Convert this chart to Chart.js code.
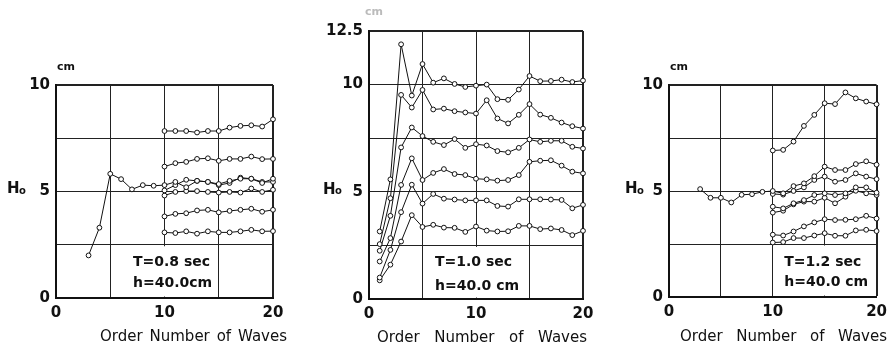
<html>
<head>
<script src="https://cdn.jsdelivr.net/npm/chart.js@4/dist/chart.umd.min.js"></script>
<style>
body { margin:0; background:#fff; width:893px; height:344px; position:relative; overflow:hidden; }
.pane { position:absolute; }
</style>
</head>
<body>
<div class="pane" style="left:0px;top:55px;width:300px;height:289px"><canvas id="c1"></canvas></div>
<div class="pane" style="left:300px;top:0px;width:300px;height:344px"><canvas id="c2"></canvas></div>
<div class="pane" style="left:600px;top:55px;width:293px;height:289px"><canvas id="c3"></canvas></div>
<script>
// wave height Ho (cm) against order number of waves, three wave periods

// T = 0.8 sec : first run from wave 3, the other runs from wave 10
var t08Lead = [2.0, 3.3, 5.83, 5.58, 5.1, 5.3, 5.27, 5.3, 5.45, 5.2, 5.5, 5.45, 5.35, 5.5, 5.6, 5.6, 5.4, 5.6];
var t08Runs = [
  [7.84, 7.84, 7.84, 7.77, 7.84, 7.84, 8.0, 8.08, 8.11, 8.05, 8.39],
  [6.17, 6.33, 6.39, 6.53, 6.56, 6.44, 6.53, 6.53, 6.64, 6.52, 6.53],
  [5.05, 5.3, 5.55, 5.5, 5.45, 5.3, 5.4, 5.65, 5.6, 5.45, 5.45],
  [4.81, 4.98, 5.02, 5.02, 4.98, 4.95, 4.98, 4.95, 5.14, 4.98, 5.08],
  [3.83, 3.95, 3.98, 4.11, 4.14, 4.02, 4.09, 4.14, 4.19, 4.05, 4.14],
  [3.08, 3.05, 3.13, 3.02, 3.13, 3.08, 3.08, 3.13, 3.2, 3.13, 3.14]
];

// T = 1.0 sec : all runs from wave 1
var t10Runs = [
  [3.15, 5.58, 11.88, 9.49, 10.96, 10.09, 10.29, 10.03, 9.89, 9.95, 10.0, 9.32, 9.29, 9.77, 10.4, 10.16, 10.17, 10.23, 10.12, 10.19],
  [2.56, 4.70, 9.52, 8.93, 9.75, 8.84, 8.88, 8.76, 8.7, 8.65, 9.27, 8.42, 8.19, 8.59, 9.09, 8.6, 8.45, 8.23, 8.06, 7.95],
  [2.25, 3.88, 7.07, 8.0, 7.6, 7.33, 7.18, 7.46, 7.05, 7.22, 7.16, 6.9, 6.84, 7.05, 7.44, 7.33, 7.38, 7.38, 7.1, 7.02],
  [1.75, 2.84, 5.32, 6.56, 5.55, 5.88, 6.06, 5.83, 5.78, 5.61, 5.58, 5.52, 5.55, 5.78, 6.4, 6.45, 6.47, 6.22, 5.94, 5.86],
  [1.0, 2.29, 4.05, 5.33, 4.45, 4.9, 4.68, 4.64, 4.6, 4.6, 4.6, 4.34, 4.31, 4.65, 4.65, 4.65, 4.64, 4.62, 4.23, 4.39],
  [0.87, 1.6, 2.68, 3.91, 3.36, 3.46, 3.33, 3.32, 3.13, 3.38, 3.19, 3.15, 3.16, 3.41, 3.41, 3.26, 3.29, 3.22, 2.98, 3.18]
];

// T = 1.2 sec
var t12Lead = [5.09, 4.68, 4.68, 4.46, 4.82, 4.85, 4.96, 5.0, 4.89, 5.23, 5.36, 5.7, 6.15, 5.99, 5.99, 6.27, 6.4, 6.24];
var t12Runs = [
  [6.91, 6.94, 7.33, 8.07, 8.59, 9.14, 9.1, 9.65, 9.37, 9.22, 9.09],
  [4.86, 4.83, 5.0, 5.17, 5.52, 5.68, 5.44, 5.52, 5.83, 5.68, 5.56],
  [4.26, 4.18, 4.42, 4.57, 4.81, 4.89, 4.81, 4.89, 5.17, 5.17, 4.92],
  [3.98, 4.07, 4.37, 4.5, 4.5, 4.68, 4.42, 4.73, 5.01, 4.89, 4.81],
  [2.94, 2.9, 3.09, 3.33, 3.52, 3.67, 3.63, 3.64, 3.67, 3.83, 3.7],
  [2.57, 2.59, 2.78, 2.78, 2.9, 3.01, 2.89, 2.89, 3.14, 3.17, 3.11]
];

var xTickLabels = [0, 10, 20];
var xTitle = 'Order Number of Waves';

var FONT = '"DejaVu Sans", sans-serif';

function pts(start, vals) {
  return vals.map(function(v, i) { return {x: start + i, y: v}; });
}
function runSet(list) {
  return list.map(function(r) {
    return {
      data: r.data,
      borderColor: '#111', borderWidth: 1,
      pointRadius: 2.4, pointBorderWidth: 1,
      pointBackgroundColor: '#fff', pointBorderColor: '#111',
      tension: 0, clip: false
    };
  });
}

var decor = {
  id: 'decor',
  beforeDatasetsDraw: function(chart) {
    var o = chart.options.plugins.decor, ctx = chart.ctx;
    var xs = chart.scales.x, ys = chart.scales.y;
    // blank area behind the caption
    ctx.save();
    ctx.fillStyle = '#fff';
    var l = xs.getPixelForValue(o.box[0]), r = xs.getPixelForValue(o.box[1]);
    var t = ys.getPixelForValue(2.5) + 1.5, b = ys.getPixelForValue(0) - 1.5;
    ctx.fillRect(l, t, r - l, b - t);
    ctx.fillStyle = '#111';
    ctx.font = '600 14px ' + FONT;
    ctx.textBaseline = 'middle';
    ctx.fillText(o.lines[0], xs.getPixelForValue(o.text[0]), ys.getPixelForValue(o.text[1]));
    ctx.fillText(o.lines[1], xs.getPixelForValue(o.text[0]), ys.getPixelForValue(o.text[2]));
    ctx.restore();
  },
  afterDraw: function(chart) {
    var o = chart.options.plugins.decor, ctx = chart.ctx, a = chart.chartArea;
    ctx.save();
    ctx.fillStyle = '#111';
    ctx.textBaseline = 'middle';
    // Ho label
    ctx.font = '600 15px ' + FONT;
    ctx.fillText('H', a.left + o.ho, chart.scales.y.getPixelForValue(5) - 2);
    ctx.font = '600 10px ' + FONT;
    ctx.fillText('o', a.left + o.ho + 12, chart.scales.y.getPixelForValue(5));
    // unit
    ctx.fillStyle = o.cmColor;
    ctx.font = '600 11px ' + FONT;
    ctx.fillText('cm', a.left + o.cm[0], a.top + o.cm[1]);
    // axis title
    ctx.fillStyle = '#111';
    ctx.font = '15px ' + FONT;
    var w = ctx.measureText(xTitle).width;
    ctx.wordSpacing = ((o.title[2] - w) / 3) + 'px';
    ctx.fillText(xTitle, a.left + o.title[0], o.title[1]);
    ctx.restore();
  }
};

function panel(id, datasets, ymax, yLabels, padTop, padRight, xh, deco) {
  new Chart(document.getElementById(id), {
    type: 'line',
    data: {datasets: datasets},
    plugins: [decor],
    options: {
      responsive: true, maintainAspectRatio: false, animation: false,
      layout: {padding: {top: padTop, right: padRight, left: 0, bottom: 0}},
      plugins: {legend: {display: false}, tooltip: {enabled: false}, decor: deco},
      scales: {
        x: {
          type: 'linear', min: 0, max: 20,
          afterFit: function(s) { s.height = xh; },
          border: {color: '#111', width: 2},
          grid: {
            color: '#222', drawTicks: false,
            lineWidth: function(c) { return c.tick && c.tick.value === 20 ? 2 : 1; }
          },
          ticks: {
            stepSize: 5, padding: 6, color: '#111', maxRotation: 0,
            font: {family: FONT, size: 15, weight: '600'},
            callback: function(v) { return xTickLabels.indexOf(v) >= 0 ? String(v) : ''; }
          }
        },
        y: {
          min: 0, max: ymax,
          afterFit: function(s) { s.width = deco.yw; },
          border: {color: '#111', width: 2},
          grid: {
            color: '#222', drawTicks: false,
            lineWidth: function(c) { return c.tick && c.tick.value === ymax ? 2 : 1; }
          },
          ticks: {
            stepSize: 2.5, padding: 6, color: '#111',
            font: {family: FONT, size: 15, weight: '600'},
            callback: function(v) { return yLabels.indexOf(v) >= 0 ? String(v) : ''; }
          }
        }
      }
    }
  });
}

var set1 = [{data: pts(3, t08Lead)}].concat(t08Runs.map(function(r) { return {data: pts(10, r)}; }));
var set2 = t10Runs.map(function(r) { return {data: pts(1, r)}; });
var set3 = [{data: pts(3, t12Lead)}].concat(t12Runs.map(function(r) { return {data: pts(10, r)}; }));

panel('c1', runSet(set1), 10, [0, 5, 10], 30, 27, 46, {
  yw: 56, box: [6.4, 14.8], text: [7.1, 1.69, 0.70], lines: ['T=0.8 sec', 'h=40.0cm'],
  ho: -49, cm: [1, -18], cmColor: '#111', title: [44, 282, 187]
});
panel('c2', runSet(set2), 12.5, [0, 5, 10, 12.5], 31, 17, 45, {
  yw: 69, box: [5.3, 14.7], text: [6.17, 1.73, 0.61], lines: ['T=1.0 sec', 'h=40.0 cm'],
  ho: -46, cm: [-4, -19], cmColor: '#bbb', title: [8, 338, 210]
});
panel('c3', runSet(set3), 10, [0, 5, 10], 30, 10, 47, {
  yw: 69, box: [10.4, 19.85], text: [11.1, 1.65, 0.71], lines: ['T=1.2 sec', 'h=40.0 cm'],
  ho: -44, cm: [1, -18], cmColor: '#111', title: [11, 282, 207]
});
</script>
</body>
</html>
